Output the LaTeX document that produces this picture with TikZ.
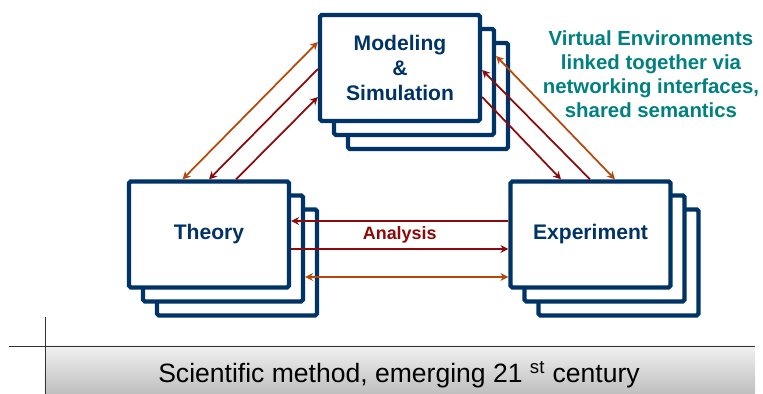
\documentclass[tikz,border=0pt]{standalone}
\usepackage{fontspec}
\setmainfont{Liberation Sans}
\usetikzlibrary{arrows.meta,shadows,calc}
\definecolor{boxblue}{RGB}{0,51,102}
\definecolor{darkred}{RGB}{140,10,10}
\definecolor{rust}{RGB}{184,72,10}
\definecolor{vegreen}{RGB}{0,128,128}
\begin{document}
\begin{tikzpicture}[>={Stealth[length=4.5pt,width=4.5pt]},
    every node/.style={font=\bfseries\fontsize{12}{14.2}\selectfont},
    card/.style={draw=boxblue, line width=0.085cm, fill=white, rounded corners=1pt,
      minimum width=3.2cm, minimum height=2.12cm, inner sep=0pt, text=boxblue, align=center,
      copy shadow={shadow xshift=0.56cm, shadow yshift=-0.56cm, draw=boxblue, fill=white, line width=0.085cm},
      copy shadow={shadow xshift=0.28cm, shadow yshift=-0.28cm, draw=boxblue, fill=white, line width=0.085cm}},
    link/.style={line width=1pt, darkred, ->},
    vlink/.style={line width=1pt, rust, <->}]
    \useasboundingbox (0,0) rectangle (15.26,7.88);
    % bottom banner
    \shade[top color=gray!12, bottom color=gray!50] (0.9,0) rectangle (15.1,0.96);
    \draw[line width=0.5pt, black!80] (0.18,0.96) -- (15.1,0.96);
    \draw[line width=0.5pt, black!80] (0.9,0) -- (0.9,1.54);
    \node[anchor=base, font=\fontsize{15.1}{17}\selectfont] (caption) at (7.98,0.22) {Scientific method, emerging 21 \textsuperscript{st} century};
    % the three views
    \node[card] (model) at (8.0,6.52) {Modeling\\\&\\Simulation};
    \node[card] (theory) at (4.18,3.19) {Theory};
    \node[card] (experiment) at (11.81,3.19) {Experiment};
    \node[text=vegreen, align=center, font=\bfseries\fontsize{11.6}{13.7}\selectfont] (note) at (13.02,6.4) {Virtual Environments\\linked together via\\networking interfaces,\\shared semantics};
    % links
    \draw[vlink] ([yshift=0.52cm]model.west) -- ([xshift=-0.53cm]theory.north);
    \draw[link] ([yshift=-0.02cm]model.west) -- (theory.north);
    \draw[link] ([xshift=0.54cm]theory.north) -- ([yshift=-0.58cm]model.west);
    \draw[vlink] ([xshift=0.28cm,yshift=0.24cm]model.east) -- ([xshift=0.49cm]experiment.north);
    \draw[link] ([xshift=-0.01cm]experiment.north) -- ([yshift=-0.04cm]model.east);
    \draw[link] ([yshift=-0.58cm]model.east) -- ([xshift=-0.59cm]experiment.north);
    \draw[link] ([yshift=0.27cm]experiment.west) -- ([yshift=0.27cm]theory.east);
    \draw[link] ([yshift=-0.29cm]theory.east) -- ([yshift=-0.29cm]experiment.west);
    \draw[vlink] ([xshift=0.28cm,yshift=-0.85cm]theory.east) -- ([yshift=-0.85cm]experiment.west);
    \node[text=darkred, font=\bfseries\fontsize{10.2}{12}\selectfont] (analysis) at ($(theory.east)!0.5!(experiment.west)$) {Analysis};
\end{tikzpicture}
\end{document}
